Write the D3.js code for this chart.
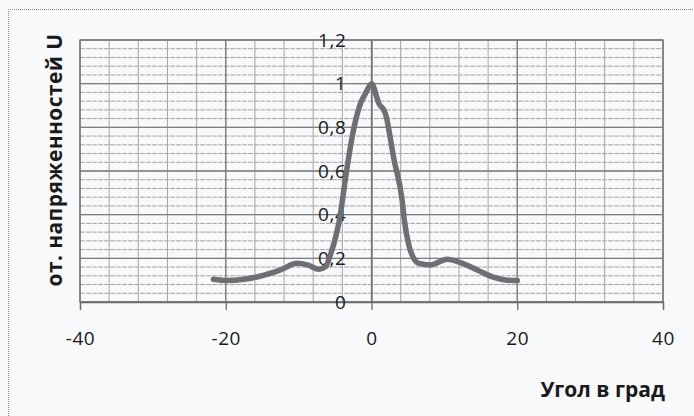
<!DOCTYPE html>
<html lang="ru">
<head>
<meta charset="utf-8">
<style>
  body { margin: 0; background: #f8f9fa; }
  text { font-family: "Open Sans", "Noto Sans", sans-serif; fill: #1a1a1a; }
</style>
</head>
<body>
<script src="https://cdnjs.cloudflare.com/ajax/libs/d3/7.8.5/d3.min.js"></script>
<svg width="694" height="416"></svg>
<script>
  // angle in degrees / relative field strength
  var angles = [-21.7, -19.8, -17.5, -15.2, -12.5, -10.2, -8.8, -7.2, -6.3, -5.6, -4.9, -4.4,
                -3.4, -2.65, -1.5, -0.8, 0, 1.0, 1.9, 3.1, 4.2, 4.5, 5.2, 5.8, 6.5, 8.1, 10.4,
                12.2, 14.5, 16.8, 18.6, 20.0];
  var values = [0.104, 0.098, 0.104, 0.119, 0.147, 0.177, 0.170, 0.150, 0.162, 0.220, 0.300, 0.376,
                0.605, 0.757, 0.910, 0.956, 1.0, 0.910, 0.864, 0.650, 0.467, 0.376, 0.250, 0.200,
                0.177, 0.170, 0.196, 0.180, 0.147, 0.113, 0.100, 0.098];
  var xTicks = [-40, -20, 0, 20, 40];
  var yTicks = [0, 0.2, 0.4, 0.6, 0.8, 1, 1.2];
  var yTickLabels = ["0", "0,2", "0,4", "0,6", "0,8", "1", "1,2"];
  var xTitle = "Угол в град";
  var yTitle = "от. напряженностей U";

  var svg = d3.select("svg");

  var x = d3.scaleLinear().domain([-40, 40]).range([80, 663]);
  var y = d3.scaleLinear().domain([0, 1.2]).range([302, 40]);

  // outer dotted frame
  svg.append("path")
    .attr("d", "M8.5,416 V9.5 H694")
    .attr("fill", "none")
    .attr("stroke", "#8a8a8a")
    .attr("stroke-dasharray", "1,1");

  var g = svg.append("g");

  // minor grid
  g.selectAll(".hminor")
    .data(d3.range(0, 1.2001, 0.04))
    .enter().append("line")
    .attr("x1", x(-40)).attr("x2", x(40))
    .attr("y1", function (d) { return y(d); })
    .attr("y2", function (d) { return y(d); })
    .attr("stroke", "#a2a4a6")
    .attr("stroke-dasharray", "5,1")
    .attr("stroke-width", 1);

  g.selectAll(".vminor")
    .data(d3.range(-40, 40.001, 4))
    .enter().append("line")
    .attr("y1", y(0)).attr("y2", y(1.2))
    .attr("x1", function (d) { return x(d); })
    .attr("x2", function (d) { return x(d); })
    .attr("stroke", "#a2a4a6")
    .attr("stroke-width", 1);

  // major grid
  g.selectAll(".hmajor")
    .data(yTicks)
    .enter().append("line")
    .attr("x1", x(-40)).attr("x2", x(40))
    .attr("y1", function (d) { return y(d); })
    .attr("y2", function (d) { return y(d); })
    .attr("stroke", "#7c7e80")
    .attr("stroke-width", 1.3);

  g.selectAll(".vmajor")
    .data(xTicks)
    .enter().append("line")
    .attr("y1", y(0)).attr("y2", y(1.2))
    .attr("x1", function (d) { return x(d); })
    .attr("x2", function (d) { return x(d); })
    .attr("stroke", "#7c7e80")
    .attr("stroke-width", 1.3);

  // plot frame
  g.append("rect")
    .attr("x", x(-40)).attr("y", y(1.2))
    .attr("width", x(40) - x(-40)).attr("height", y(0) - y(1.2))
    .attr("fill", "none")
    .attr("stroke", "#7c7e80")
    .attr("stroke-width", 1.3);

  // x axis at y = 0
  var xAxis = g.append("g")
    .attr("transform", "translate(0," + y(0) + ")")
    .call(d3.axisBottom(x).tickValues(xTicks).tickSize(8).tickPadding(22)
      .tickFormat(function (d) { return String(d); }));
  xAxis.select(".domain").attr("stroke", "#6a6c6e").attr("stroke-width", 1.3);
  xAxis.selectAll(".tick line").attr("stroke", "#6a6c6e").attr("stroke-width", 1.3);
  xAxis.selectAll("text").attr("font-size", "19px").attr("letter-spacing", "0.6px")
    .attr("font-family", "Open Sans").attr("fill", "#1a1a1a");

  // y axis crossing at x = 0
  var yAxis = g.append("g")
    .attr("transform", "translate(" + x(0) + ",0)")
    .call(d3.axisLeft(y).tickValues(yTicks).tickSize(0).tickPadding(25)
      .tickFormat(function (d, i) { return yTickLabels[i]; }));
  yAxis.select(".domain").attr("stroke", "#6a6c6e").attr("stroke-width", 1.3);
  yAxis.selectAll("text").attr("font-size", "19px").attr("letter-spacing", "0.6px")
    .attr("font-family", "Open Sans").attr("fill", "#1a1a1a");

  // curve
  var data = angles.map(function (a, i) { return { a: a, v: values[i] }; });
  g.append("path")
    .datum(data)
    .attr("fill", "none")
    .attr("stroke", "#6d6f72")
    .attr("stroke-width", 5.5)
    .attr("stroke-linejoin", "round")
    .attr("stroke-linecap", "round")
    .attr("d", d3.line()
      .x(function (d) { return x(d.a); })
      .y(function (d) { return y(d.v); })
      .curve(d3.curveMonotoneX));

  // titles
  svg.append("text")
    .attr("x", 665).attr("y", 397)
    .attr("text-anchor", "end")
    .attr("font-size", "21px")
    .attr("font-weight", "bold")
    .text(xTitle);

  svg.append("text")
    .attr("transform", "translate(62,160) rotate(-90)")
    .attr("text-anchor", "middle")
    .attr("font-size", "21px")
    .attr("font-weight", "bold")
    .attr("letter-spacing", "0.4px")
    .text(yTitle);
</script>
</body>
</html>
